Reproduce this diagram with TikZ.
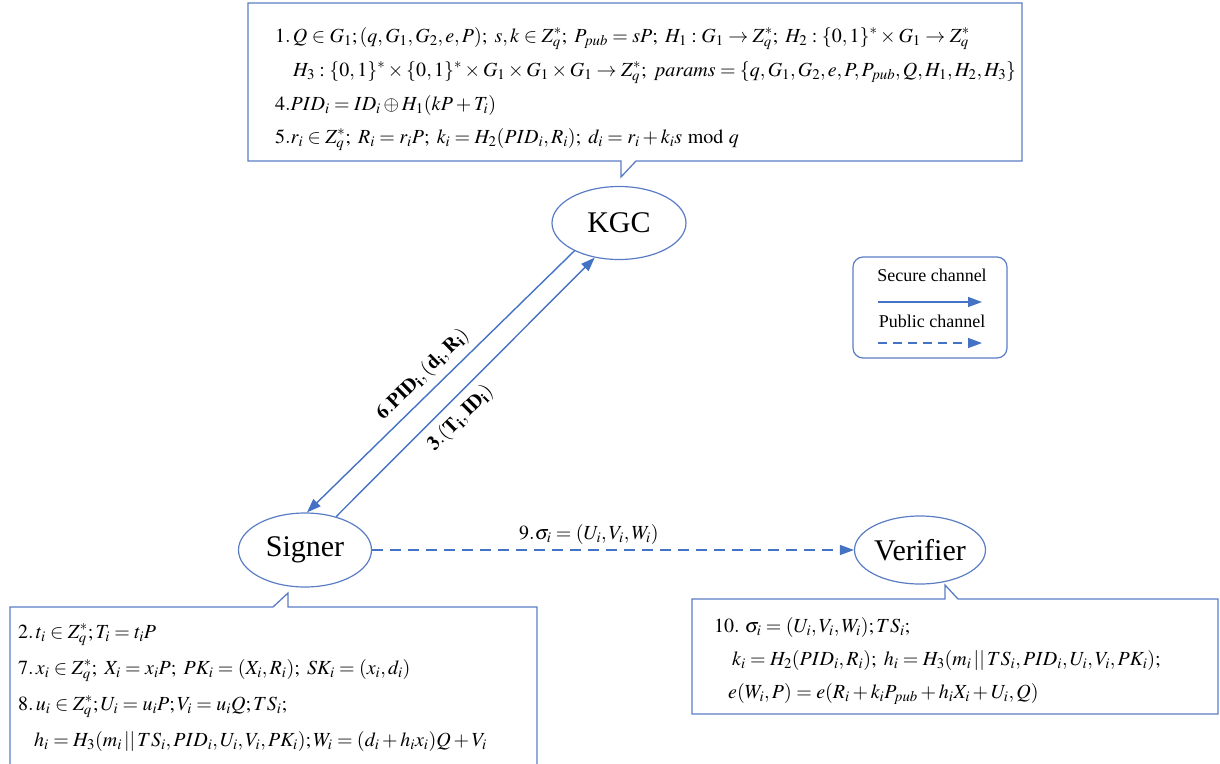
\documentclass[tikz,border=0pt]{standalone}
\usepackage{mathptmx}
\usepackage[no-math]{fontspec}
\setmainfont{Liberation Serif}
\usetikzlibrary{arrows.meta,shapes.geometric}
\definecolor{lb}{RGB}{68,114,196}
\definecolor{bx}{RGB}{90,124,196}
\begin{document}
\begin{tikzpicture}[x=1pt,y=-1pt,
  ell/.style={draw=bx,line width=1.2pt,ellipse,inner sep=0pt,font=\fontsize{30}{30}\selectfont},
  box/.style={draw=bx,line width=1.3pt},
  txt/.style={anchor=base west,inner sep=0pt,font=\fontsize{20}{24}\selectfont},
  arr/.style={lb,line width=1.4pt,-{Triangle[length=14pt,width=10pt]}},
  pub/.style={dash pattern=on 11pt off 7pt},
  lab/.style={text=black,font=\fontsize{20}{24}\selectfont,inner sep=2pt},
  leg/.style={text=black,font=\fontsize{18}{20}\selectfont,inner sep=0pt}]
\useasboundingbox (0,0) rectangle (1220,763);
% callout boxes
\draw[box] (248,3) -- (1022,3) -- (1022,161) -- (636,161) -- (621,177) -- (621,161) -- (248,161) -- cycle;
\draw[box] (10,607) -- (273,607) -- (288,593) -- (288,607) -- (537,607) -- (537,775) -- (10,775) -- cycle;
\draw[box] (692,599) -- (945,599) -- (945,585) -- (958,599) -- (1218,599) -- (1218,714) -- (692,714) -- cycle;
% top box text
\node[txt] (t1) at (275,42) {$1.\,Q\in G_1;(q,G_1,G_2,e,P);\ s,k\in Z_q^*;\ P_{pub}=sP;\ H_1:G_1\to Z_q^*;\ H_2:\{0,1\}^*\times G_1\to Z_q^*$};
\node[txt] (t2) at (293,76) {$H_3:\{0,1\}^*\times\{0,1\}^*\times G_1\times G_1\times G_1\to Z_q^*;\ params=\{q,G_1,G_2,e,P,P_{pub},Q,H_1,H_2,H_3\}$};
\node[txt] (t3) at (275,110) {$4.PID_i=ID_i\oplus H_1(kP+T_i)$};
\node[txt] (t4) at (275,143) {$5.r_i\in Z_q^*;\ R_i=r_iP;\ k_i=H_2(PID_i,R_i);\ d_i=r_i+k_is\bmod q$};
% signer box text
\node[txt] (s1) at (18,638) {$2.\,t_i\in Z_q^*;T_i=t_iP$};
\node[txt] (s2) at (18,674) {$7.\,x_i\in Z_q^*;\ X_i=x_iP;\ PK_i=(X_i,R_i);\ SK_i=(x_i,d_i)$};
\node[txt] (s3) at (18,710) {$8.\,u_i\in Z_q^*;U_i=u_iP;V_i=u_iQ;TS_i;$};
\node[txt] (s4) at (34,746) {$h_i=H_3(m_i\,||\,TS_i,PID_i,U_i,V_i,PK_i);W_i=(d_i+h_ix_i)Q+V_i$};
% verifier box text
\node[txt] (v1) at (714,632) {$10.\ \sigma_i=(U_i,V_i,W_i);TS_i;$};
\node[txt] (v2) at (732,665) {$k_i=H_2(PID_i,R_i);\ h_i=H_3(m_i\,||\,TS_i,PID_i,U_i,V_i,PK_i);$};
\node[txt] (v3) at (728,698) {$e(W_i,P)=e(R_i+k_iP_{pub}+h_iX_i+U_i,Q)$};
% entities
\node[ell,minimum width=134pt,minimum height=73pt] (kgc) at (619,223) {KGC};
\node[ell,minimum width=133pt,minimum height=74pt] (signer) at (305,550) {Signer};
\node[ell,minimum width=131pt,minimum height=68pt] (verifier) at (920,550) {Verifier};
% connectors
\draw[arr] (kgc.212) -- (signer.87) node[lab,pos=0.52,rotate=44.5,above=5pt] {$\mathbf{6.PID_{i},(d_{i},R_{i})}$};
\draw[arr] (signer.47) -- (kgc.235) node[lab,pos=0.43,rotate=45,below=6pt] {$\mathbf{3.(T_{i},ID_{i})}$};
\draw[arr,pub] (signer.east) -- (verifier.west) node[lab,pos=0.45,above=3pt] {$9.\sigma_i=(U_i,V_i,W_i)$};
% legend
\node[draw=bx,line width=1.2pt,rounded corners=10pt,minimum width=154pt,minimum height=101pt,inner sep=0pt] (legend) at (930,307.5) {};
\node[leg] (lsec) at (932,275) {Secure channel};
\node[leg] (lpub) at (932,321) {Public channel};
\coordinate (a1) at (878,302);
\coordinate (a2) at (982,302);
\coordinate (b1) at (878,343);
\coordinate (b2) at (982,343);
\draw[arr] (a1) -- (a2);
\draw[arr,dash pattern=on 9pt off 6pt] (b1) -- (b2);
\end{tikzpicture}
\end{document}
